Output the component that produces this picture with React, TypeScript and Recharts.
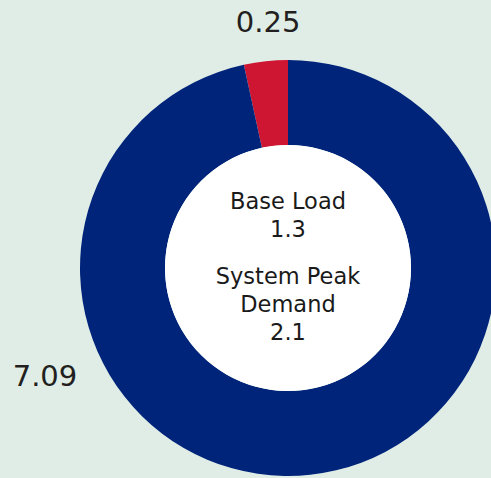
import { PieChart, Pie, Cell } from 'recharts';

const segmentNames = ['Other', 'Peak'];
const segmentValues = [0.25, 7.09];
const segmentColors = ['#CE1531', '#00247A'];
const centerLines = [['Base Load', '1.3'], ['System Peak', 'Demand', '2.1']];

const data = segmentNames.map((name, i) => ({ name, value: segmentValues[i] }));

const RAD = Math.PI / 180;

const renderLabel = (props: any) => {
    const { cx, cy, outerRadius, midAngle, index, value } = props;
    const angle = index === 0 ? midAngle - 1.5 : 204;
    const r = index === 0 ? outerRadius + 39 : outerRadius + 58;
    const x = cx + r * Math.cos(angle * RAD);
    const y = cy - r * Math.sin(angle * RAD);
    return (
        <text x={x} y={y} textAnchor="middle" dominantBaseline="central" fill="#231f20" fontSize={29} fontFamily="DejaVu Sans">
            {value}
        </text>
    );
};

export default function App() {
    return (
        <div style={{ position: 'relative', width: 491, height: 478, background: '#DFEDE6', overflow: 'hidden' }}>
            <style>{'body{margin:0}'}</style>
            <PieChart width={491} height={478} margin={{ top: 0, right: 0, bottom: 0, left: 0 }}>
                <Pie
                    data={data}
                    dataKey="value"
                    cx={288}
                    cy={268}
                    innerRadius={123}
                    outerRadius={208}
                    startAngle={90}
                    endAngle={450}
                    stroke="none"
                    label={renderLabel}
                    labelLine={false}
                    isAnimationActive={false}
                >
                    {data.map((d, i) => (
                        <Cell key={d.name} fill={segmentColors[i]} />
                    ))}
                </Pie>
                <Pie
                    data={[{ name: 'hole', value: 1 }]}
                    dataKey="value"
                    cx={288}
                    cy={268}
                    innerRadius={0}
                    outerRadius={123}
                    fill="#ffffff"
                    stroke="none"
                    isAnimationActive={false}
                />
            </PieChart>
            <div
                style={{
                    position: 'absolute',
                    left: 188,
                    top: 187,
                    width: 200,
                    textAlign: 'center',
                    fontFamily: 'DejaVu Sans',
                    fontSize: 22.5,
                    lineHeight: '28px',
                    color: '#1a1a1a',
                }}
            >
                {centerLines.map((group, gi) => (
                    <div key={gi} style={{ marginTop: gi === 0 ? 0 : 19 }}>
                        {group.map((line) => (
                            <div key={line}>{line}</div>
                        ))}
                    </div>
                ))}
            </div>
        </div>
    );
}
